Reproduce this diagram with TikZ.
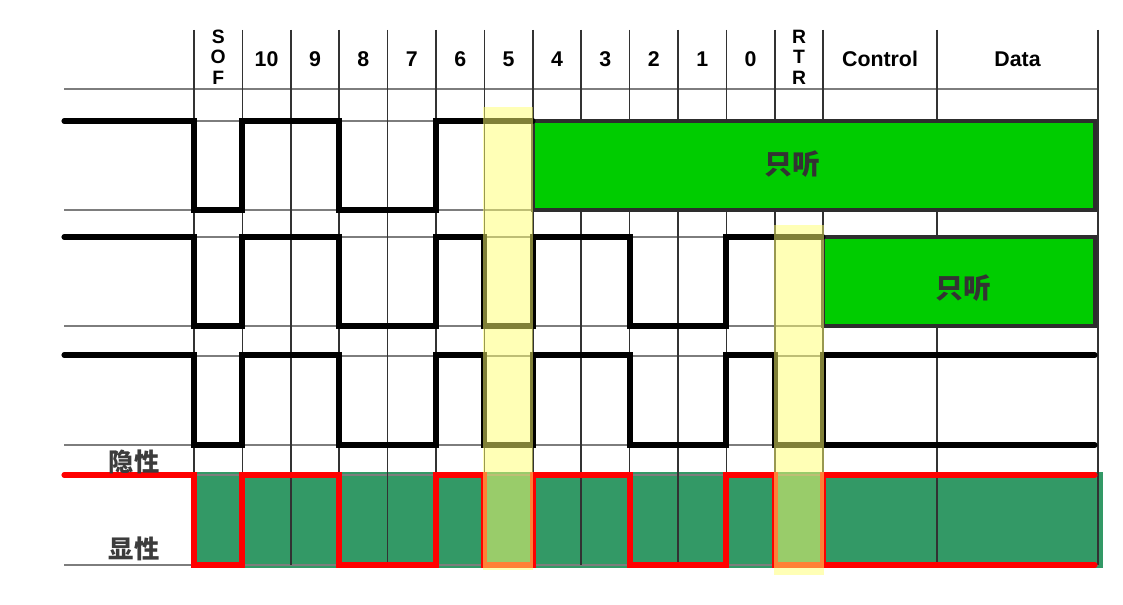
\documentclass[tikz,border=0pt]{standalone}
\usepackage{fontspec}
\setmainfont{Liberation Sans}
\newfontfamily\cjk{Noto Sans CJK SC}
\definecolor{busgreen}{RGB}{51,153,102}
\definecolor{boxgreen}{RGB}{0,204,0}
\definecolor{hilite}{RGB}{255,255,110}
\definecolor{gridc}{RGB}{50,50,50}
\definecolor{rowc}{RGB}{125,125,125}
\definecolor{sigred}{RGB}{255,0,0}
\definecolor{boxedge}{RGB}{45,45,45}
\definecolor{labelc}{RGB}{60,60,60}
\begin{document}
\begin{tikzpicture}[x=0.75pt,y=-0.75pt,
  colline/.style={draw=gridc, line width=1.1pt},
  rowline/.style={draw=rowc, line width=1.1pt},
  sig/.style={draw=black, line width=3.8pt, line join=miter, line cap=round},
  bus/.style={draw=sigred, line width=3.8pt, line join=miter, line cap=round},
  listenbox/.style={draw=boxedge, fill=boxgreen, line width=3.4pt},
  hl/.style={fill=hilite, fill opacity=0.5},
  hdr/.style={inner sep=0pt, anchor=base, font=\bfseries\fontsize{16}{18}\selectfont},
  stk/.style={inner sep=0pt, anchor=base, font=\bfseries\fontsize{14.5}{16}\selectfont},
  cjklabel/.style={inner sep=0pt, font=\cjk\bfseries\fontsize{21}{24}\selectfont, text=black!80},
  sidelabel/.style={inner sep=0pt, font=\cjk\bfseries\fontsize{19}{22}\selectfont, text=labelc}]
\useasboundingbox (0,0) rectangle (1123,605);
\fill[white] (0,0) rectangle (1123,605);
% bus area
\fill[busgreen] (194,472) rectangle (1103,568);
% row lines
\foreach \y in {89,121,210,237,326,356,445,475,565}
  \draw[rowline] (64,\y) -- (1098,\y);
% column lines
\foreach \x in {194,242.4,290.8,339.2,387.6,436,484.4,532.8,581.2,629.6,678,726.4,774.8,823.2,937,1098}
  \draw[colline] (\x,30) -- (\x,565);
% header
\node[stk] (s1) at (218.2,43.5) {S};
\node[stk] (s2) at (218.2,64) {O};
\node[stk] (s3) at (218.2,84.5) {F};
\node[hdr] (b10) at (266.6,67) {10};
\node[hdr] (b9) at (315,67) {9};
\node[hdr] (b8) at (363.4,67) {8};
\node[hdr] (b7) at (411.8,67) {7};
\node[hdr] (b6) at (460.2,67) {6};
\node[hdr] (b5) at (508.6,67) {5};
\node[hdr] (b4) at (557,67) {4};
\node[hdr] (b3) at (605.4,67) {3};
\node[hdr] (b2) at (653.8,67) {2};
\node[hdr] (b1) at (702.2,67) {1};
\node[hdr] (b0) at (750.6,67) {0};
\node[stk] (r1) at (799,43.5) {R};
\node[stk] (r2) at (799,64) {T};
\node[stk] (r3) at (799,84.5) {R};
\node[hdr] (ctl) at (880,67) {Control};
\node[hdr] (dat) at (1017.5,67) {Data};
% node 1
\draw[listenbox] (533,121) rectangle (1095,210);
\draw[sig] (64,121) -| (194,210) -| (242,121) -| (339,210) -| (436,121) -- (533,121);
\node[cjklabel] (l1) at (792,164) {只听};
% node 2
\draw[listenbox] (823,237) rectangle (1095,326);
\draw[sig] (64,237) -| (194,326) -| (242,237) -| (339,326) -| (436,237) -| (484,326) -| (533,237) -| (630,326) -| (726,237) -- (823,237);
\node[cjklabel] (l2) at (963,288) {只听};
% node 3
\draw[sig] (64,355) -| (194,445) -| (242,355) -| (339,445) -| (436,355) -| (484,445) -| (533,355) -| (630,445) -| (726,355) -| (775,445) -| (823,355) -- (1095,355);
\draw[sig] (823,445) -- (1095,445);
% bus
\draw[bus] (64,475) -| (194,565) -| (242,475) -| (339,565) -| (436,475) -| (484,565) -| (533,475) -| (630,565) -| (726,475) -| (775,565) -| (823,475) -- (1095,475);
\draw[bus] (823,565) -- (1095,565);
\node[sidelabel] (rec) at (134,462) {隐性};
\node[sidelabel] (dom) at (134,549) {显性};
% highlights
\fill[hl] (483,107) rectangle (533,570);
\fill[hl] (774,225) rectangle (824,575);
\end{tikzpicture}
\end{document}
